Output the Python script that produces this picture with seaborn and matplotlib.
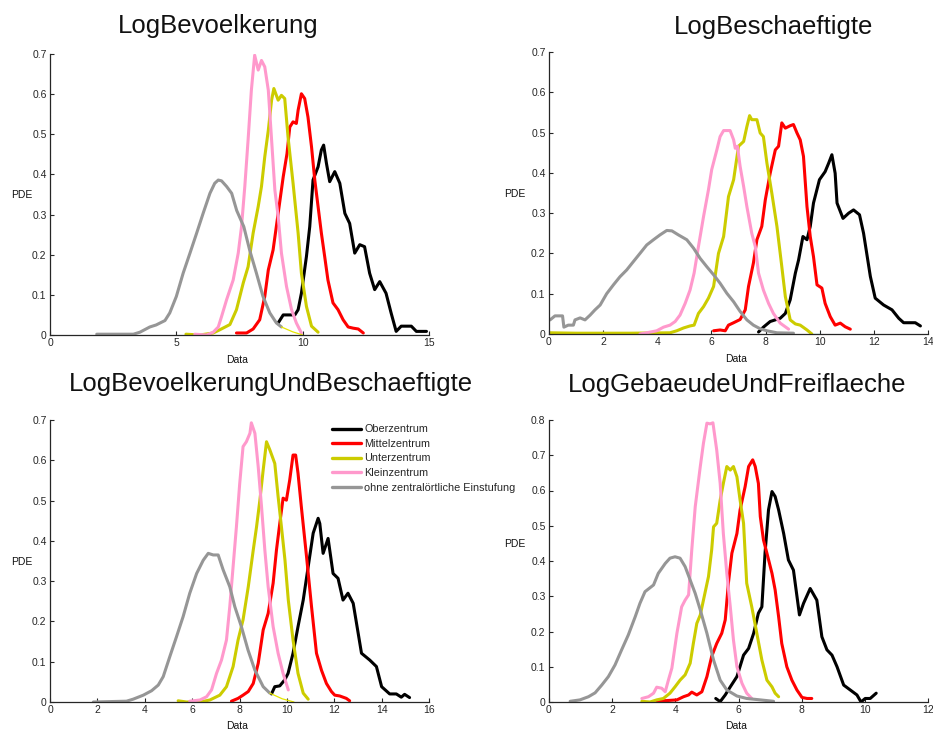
import numpy as np
import pandas as pd
import matplotlib
matplotlib.use("Agg")
import matplotlib.pyplot as plt
import seaborn as sns
from matplotlib.ticker import FormatStrFormatter, FuncFormatter

sns.set_theme(style="white")
plt.rcParams["font.family"] = ["Liberation Sans", "DejaVu Sans"]

categories = ["Oberzentrum", "Mittelzentrum", "Unterzentrum", "Kleinzentrum",
              "ohne zentralörtliche Einstufung"]
colors = ["#000000", "#ff0000", "#cccc00", "#ff99cc", "#969696"]
titles = ["LogBevoelkerung", "LogBeschaeftigte",
          "LogBevoelkerungUndBeschaeftigte", "LogGebaeudeUndFreiflaeche"]

# ---------------- Panel 1: LogBevoelkerung ----------------
p1_ober_x = [9.03, 9.23, 9.49, 9.69, 9.82, 9.95, 10.15, 10.28, 10.41, 10.61, 10.74, 10.83, 10.94, 11.07, 11.27, 11.47, 11.67, 11.86, 12.06, 12.26, 12.45, 12.65, 12.85, 13.05, 13.3, 13.5, 13.7, 13.9, 14.3, 14.5, 14.9]
p1_ober_y = [0.03, 0.05, 0.05, 0.05, 0.063, 0.104, 0.196, 0.27, 0.386, 0.419, 0.461, 0.473, 0.428, 0.382, 0.407, 0.378, 0.303, 0.278, 0.204, 0.225, 0.22, 0.154, 0.113, 0.133, 0.104, 0.055, 0.009, 0.022, 0.022, 0.009, 0.009]
p1_mittel_x = [7.38, 7.78, 8.04, 8.3, 8.5, 8.64, 8.83, 9.03, 9.23, 9.38, 9.49, 9.62, 9.75, 9.82, 9.95, 10.08, 10.21, 10.35, 10.48, 10.61, 10.74, 10.87, 11.0, 11.2, 11.4, 11.6, 11.8, 12.0, 12.2, 12.4]
p1_mittel_y = [0.005, 0.005, 0.015, 0.038, 0.096, 0.162, 0.212, 0.303, 0.394, 0.452, 0.518, 0.531, 0.527, 0.56, 0.601, 0.589, 0.543, 0.469, 0.386, 0.32, 0.254, 0.196, 0.137, 0.08, 0.063, 0.038, 0.02, 0.017, 0.015, 0.005]
p1_unter_x = [5.38, 5.93, 6.46, 6.72, 7.12, 7.38, 7.65, 7.84, 8.04, 8.24, 8.37, 8.5, 8.64, 8.77, 8.86, 9.03, 9.16, 9.29, 9.42, 9.62, 9.82, 9.95, 10.15, 10.35, 10.61]
p1_unter_y = [0.002, 0.0, 0.005, 0.013, 0.026, 0.063, 0.13, 0.17, 0.254, 0.32, 0.37, 0.444, 0.51, 0.585, 0.614, 0.585, 0.597, 0.589, 0.494, 0.378, 0.254, 0.154, 0.071, 0.022, 0.007]
p1_klein_x = [5.73, 6.2, 6.46, 6.66, 6.79, 6.99, 7.25, 7.45, 7.58, 7.71, 7.84, 7.97, 8.1, 8.24, 8.37, 8.5, 8.64, 8.77, 8.9, 9.03, 9.16, 9.36, 9.56, 9.75, 9.95]
p1_klein_y = [0.002, 0.0, 0.007, 0.02, 0.046, 0.088, 0.137, 0.204, 0.27, 0.37, 0.486, 0.61, 0.697, 0.66, 0.684, 0.668, 0.61, 0.486, 0.361, 0.295, 0.204, 0.121, 0.063, 0.03, 0.005]
p1_ohne_x = [1.85, 3.3, 3.56, 3.95, 4.2, 4.55, 4.74, 5.0, 5.27, 5.54, 5.8, 6.06, 6.33, 6.52, 6.66, 6.79, 6.99, 7.19, 7.39, 7.67, 7.9, 8.17, 8.43, 8.7, 8.96, 9.16]
p1_ohne_y = [0.002, 0.002, 0.007, 0.02, 0.025, 0.036, 0.055, 0.096, 0.154, 0.204, 0.253, 0.303, 0.353, 0.378, 0.386, 0.384, 0.37, 0.353, 0.31, 0.27, 0.212, 0.154, 0.096, 0.055, 0.03, 0.02]
p1_tail_x = [9.16, 9.6, 10.0]
p1_tail_y = [0.02, 0.008, 0.0]

# ---------------- Panel 2: LogBeschaeftigte ----------------
p2_ober_x = [7.74, 7.92, 8.17, 8.54, 8.73, 8.91, 9.1, 9.22, 9.38, 9.53, 9.65, 9.77, 9.99, 10.2, 10.33, 10.45, 10.57, 10.64, 10.86, 11.07, 11.25, 11.47, 11.62, 11.87, 12.05, 12.36, 12.67, 12.92, 13.1, 13.53, 13.72]
p2_ober_y = [0.005, 0.017, 0.031, 0.039, 0.051, 0.085, 0.151, 0.184, 0.242, 0.234, 0.267, 0.325, 0.383, 0.403, 0.424, 0.445, 0.399, 0.325, 0.287, 0.3, 0.308, 0.296, 0.25, 0.143, 0.089, 0.072, 0.06, 0.039, 0.028, 0.028, 0.02]
p2_mittel_x = [6.08, 6.32, 6.51, 6.63, 6.82, 7.06, 7.25, 7.37, 7.55, 7.68, 7.86, 7.99, 8.17, 8.36, 8.48, 8.6, 8.73, 8.91, 9.03, 9.16, 9.28, 9.4, 9.53, 9.65, 9.77, 9.9, 10.08, 10.2, 10.39, 10.57, 10.76, 10.94, 11.13]
p2_mittel_y = [0.008, 0.01, 0.008, 0.022, 0.028, 0.036, 0.06, 0.118, 0.176, 0.234, 0.267, 0.333, 0.399, 0.457, 0.466, 0.524, 0.511, 0.517, 0.52, 0.499, 0.482, 0.441, 0.316, 0.242, 0.192, 0.122, 0.114, 0.076, 0.043, 0.022, 0.027, 0.018, 0.012]
p2_unter_x = [0.04, 1.0, 2.0, 3.0, 4.47, 4.72, 4.97, 5.21, 5.36, 5.52, 5.71, 5.89, 6.08, 6.26, 6.45, 6.63, 6.82, 7.0, 7.19, 7.31, 7.41, 7.49, 7.68, 7.8, 7.92, 8.05, 8.23, 8.42, 8.6, 8.73, 8.91, 9.1, 9.28, 9.53, 9.71]
p2_unter_y = [0.003, 0.002, 0.002, 0.002, 0.003, 0.008, 0.015, 0.02, 0.022, 0.051, 0.068, 0.089, 0.118, 0.2, 0.242, 0.341, 0.383, 0.466, 0.478, 0.515, 0.542, 0.532, 0.532, 0.499, 0.49, 0.424, 0.35, 0.267, 0.167, 0.093, 0.035, 0.025, 0.022, 0.01, 0.0]
p2_klein_x = [3.36, 3.61, 3.98, 4.23, 4.47, 4.66, 4.84, 5.03, 5.21, 5.36, 5.52, 5.71, 5.89, 6.01, 6.2, 6.32, 6.45, 6.69, 6.82, 6.88, 6.96, 7.06, 7.19, 7.31, 7.49, 7.62, 7.74, 7.92, 8.11, 8.29, 8.54, 8.85]
p2_klein_y = [0.0, 0.003, 0.008, 0.017, 0.022, 0.031, 0.047, 0.076, 0.109, 0.151, 0.217, 0.292, 0.358, 0.408, 0.457, 0.49, 0.505, 0.505, 0.482, 0.461, 0.466, 0.416, 0.366, 0.316, 0.25, 0.217, 0.151, 0.109, 0.076, 0.051, 0.027, 0.012]
p2_ohne_x = [0.04, 0.22, 0.5, 0.55, 0.71, 0.9, 0.96, 1.15, 1.33, 1.52, 1.7, 1.89, 2.13, 2.38, 2.62, 2.87, 3.12, 3.36, 3.61, 3.86, 4.1, 4.35, 4.54, 4.78, 5.09, 5.34, 5.58, 5.83, 6.08, 6.32, 6.57, 6.82, 7.06, 7.31, 7.55, 7.8, 8.05, 8.42, 9.03]
p2_ohne_y = [0.035, 0.045, 0.045, 0.017, 0.022, 0.022, 0.035, 0.04, 0.035, 0.047, 0.06, 0.072, 0.1, 0.122, 0.142, 0.159, 0.18, 0.2, 0.221, 0.234, 0.246, 0.257, 0.256, 0.246, 0.234, 0.213, 0.188, 0.167, 0.147, 0.126, 0.101, 0.08, 0.056, 0.035, 0.022, 0.013, 0.008, 0.003, 0.002]
p2_tail_x = [9.75, 10.0]
p2_tail_y = [0.0, 0.0]

# ---------------- Panel 3: LogBevoelkerungUndBeschaeftigte ----------------
p3_ober_x = [9.35, 9.49, 9.7, 9.91, 10.05, 10.26, 10.47, 10.69, 10.9, 11.11, 11.32, 11.39, 11.53, 11.74, 11.95, 12.16, 12.37, 12.58, 12.8, 13.15, 13.5, 13.78, 14.0, 14.34, 14.62, 14.83, 14.97, 15.18]
p3_ober_y = [0.02, 0.038, 0.04, 0.055, 0.071, 0.121, 0.187, 0.253, 0.336, 0.419, 0.456, 0.443, 0.369, 0.406, 0.319, 0.307, 0.253, 0.27, 0.245, 0.121, 0.104, 0.088, 0.038, 0.02, 0.02, 0.012, 0.019, 0.011]
p3_mittel_x = [7.66, 7.94, 8.15, 8.37, 8.58, 8.79, 9.0, 9.21, 9.42, 9.56, 9.7, 9.84, 9.98, 10.12, 10.26, 10.37, 10.47, 10.61, 10.83, 11.04, 11.25, 11.46, 11.67, 11.88, 12.02, 12.23, 12.51, 12.65]
p3_mittel_y = [0.002, 0.009, 0.017, 0.026, 0.046, 0.096, 0.179, 0.22, 0.295, 0.377, 0.443, 0.506, 0.501, 0.551, 0.613, 0.613, 0.568, 0.485, 0.361, 0.237, 0.121, 0.079, 0.046, 0.026, 0.017, 0.015, 0.009, 0.003]
p3_unter_x = [5.41, 5.76, 6.33, 6.75, 7.17, 7.45, 7.73, 7.94, 8.15, 8.37, 8.58, 8.72, 8.86, 9.0, 9.14, 9.28, 9.49, 9.63, 9.77, 9.92, 10.06, 10.26, 10.47, 10.69, 10.9]
p3_unter_y = [0.003, 0.0, 0.0, 0.005, 0.017, 0.038, 0.088, 0.154, 0.204, 0.286, 0.377, 0.435, 0.501, 0.576, 0.646, 0.626, 0.592, 0.51, 0.435, 0.352, 0.253, 0.154, 0.071, 0.022, 0.007]
p3_klein_x = [5.9, 6.33, 6.61, 6.82, 7.03, 7.24, 7.45, 7.59, 7.73, 7.87, 8.01, 8.15, 8.29, 8.44, 8.5, 8.65, 8.79, 8.93, 9.07, 9.21, 9.42, 9.63, 9.84, 10.06]
p3_klein_y = [0.002, 0.005, 0.013, 0.03, 0.071, 0.104, 0.154, 0.237, 0.336, 0.435, 0.543, 0.634, 0.646, 0.667, 0.693, 0.667, 0.584, 0.485, 0.377, 0.286, 0.187, 0.121, 0.071, 0.03]
p3_ohne_x = [1.83, 3.23, 3.51, 3.94, 4.29, 4.57, 4.78, 5.06, 5.34, 5.62, 5.9, 6.19, 6.47, 6.68, 6.89, 7.1, 7.31, 7.59, 7.8, 8.08, 8.36, 8.65, 9.0, 9.28]
p3_ohne_y = [0.0, 0.002, 0.007, 0.017, 0.028, 0.042, 0.063, 0.113, 0.162, 0.212, 0.27, 0.319, 0.352, 0.369, 0.365, 0.365, 0.328, 0.286, 0.237, 0.187, 0.129, 0.079, 0.038, 0.022]
p3_tail_x = [9.28, 9.8, 10.3]
p3_tail_y = [0.022, 0.008, 0.0]

# ---------------- Panel 4: LogGebaeudeUndFreiflaeche ----------------
p4_ober_x = [5.28, 5.42, 5.58, 5.74, 5.95, 6.16, 6.32, 6.48, 6.63, 6.74, 6.84, 6.95, 7.06, 7.16, 7.27, 7.43, 7.58, 7.74, 7.93, 8.06, 8.27, 8.48, 8.64, 8.8, 8.96, 9.12, 9.33, 9.54, 9.75, 9.88, 10.01, 10.17, 10.36]
p4_ober_y = [0.01, 0.001, 0.02, 0.043, 0.072, 0.133, 0.152, 0.195, 0.252, 0.27, 0.422, 0.545, 0.597, 0.583, 0.545, 0.478, 0.403, 0.374, 0.247, 0.28, 0.322, 0.289, 0.185, 0.148, 0.133, 0.1, 0.048, 0.034, 0.02, 0.0, 0.01, 0.01, 0.025]
p4_mittel_x = [3.41, 3.73, 4.05, 4.26, 4.42, 4.52, 4.68, 4.84, 5.0, 5.15, 5.31, 5.47, 5.58, 5.68, 5.79, 5.95, 6.05, 6.21, 6.32, 6.45, 6.53, 6.63, 6.69, 6.79, 6.9, 7.06, 7.16, 7.27, 7.37, 7.53, 7.69, 7.85, 8.01, 8.17, 8.32]
p4_mittel_y = [0.003, 0.004, 0.006, 0.015, 0.02, 0.028, 0.02, 0.029, 0.072, 0.129, 0.166, 0.195, 0.233, 0.337, 0.422, 0.478, 0.545, 0.611, 0.668, 0.687, 0.668, 0.62, 0.526, 0.46, 0.422, 0.365, 0.318, 0.242, 0.166, 0.1, 0.062, 0.034, 0.013, 0.01, 0.01]
p4_unter_x = [2.94, 3.2, 3.41, 3.62, 3.83, 3.99, 4.15, 4.31, 4.47, 4.57, 4.68, 4.79, 4.89, 5.05, 5.15, 5.21, 5.31, 5.42, 5.52, 5.63, 5.74, 5.84, 5.95, 6.05, 6.16, 6.26, 6.42, 6.58, 6.74, 6.9, 7.06, 7.16, 7.27]
p4_unter_y = [0.002, 0.0, 0.006, 0.01, 0.025, 0.043, 0.062, 0.077, 0.11, 0.166, 0.223, 0.247, 0.289, 0.356, 0.431, 0.497, 0.507, 0.573, 0.62, 0.668, 0.658, 0.668, 0.639, 0.573, 0.507, 0.337, 0.27, 0.195, 0.119, 0.062, 0.043, 0.025, 0.015]
p4_klein_x = [2.94, 3.15, 3.31, 3.41, 3.57, 3.68, 3.78, 3.89, 4.05, 4.2, 4.31, 4.42, 4.52, 4.63, 4.79, 4.89, 5.0, 5.1, 5.19, 5.31, 5.42, 5.52, 5.63, 5.74, 5.84, 5.95, 6.11, 6.26, 6.42]
p4_klein_y = [0.01, 0.015, 0.025, 0.042, 0.039, 0.029, 0.062, 0.096, 0.195, 0.27, 0.289, 0.304, 0.431, 0.554, 0.668, 0.734, 0.791, 0.789, 0.792, 0.715, 0.62, 0.478, 0.365, 0.27, 0.176, 0.1, 0.053, 0.025, 0.01]
p4_ohne_x = [0.67, 0.98, 1.25, 1.46, 1.67, 1.88, 2.09, 2.3, 2.51, 2.73, 2.88, 3.04, 3.31, 3.46, 3.68, 3.83, 3.99, 4.15, 4.31, 4.47, 4.63, 4.79, 5.0, 5.21, 5.42, 5.63, 5.95, 6.26, 6.69, 7.11]
p4_ohne_y = [0.002, 0.006, 0.015, 0.026, 0.048, 0.072, 0.105, 0.148, 0.19, 0.242, 0.28, 0.313, 0.332, 0.365, 0.393, 0.408, 0.412, 0.408, 0.384, 0.346, 0.308, 0.261, 0.195, 0.119, 0.062, 0.034, 0.017, 0.01, 0.006, 0.002]

panels = [
    [(p1_ober_x, p1_ober_y), (p1_mittel_x, p1_mittel_y), (p1_unter_x, p1_unter_y),
     (p1_klein_x, p1_klein_y), (p1_ohne_x, p1_ohne_y)],
    [(p2_ober_x, p2_ober_y), (p2_mittel_x, p2_mittel_y), (p2_unter_x, p2_unter_y),
     (p2_klein_x, p2_klein_y), (p2_ohne_x, p2_ohne_y)],
    [(p3_ober_x, p3_ober_y), (p3_mittel_x, p3_mittel_y), (p3_unter_x, p3_unter_y),
     (p3_klein_x, p3_klein_y), (p3_ohne_x, p3_ohne_y)],
    [(p4_ober_x, p4_ober_y), (p4_mittel_x, p4_mittel_y), (p4_unter_x, p4_unter_y),
     (p4_klein_x, p4_klein_y), (p4_ohne_x, p4_ohne_y)],
]
tails = [(p1_tail_x, p1_tail_y, "#e6e600"), (p2_tail_x, p2_tail_y, "#33cccc"),
         (p3_tail_x, p3_tail_y, "#e6e600"), None]

xlims = [(0, 15), (0, 14), (0, 16), (0, 12)]
xticks = [[0, 5, 10, 15], list(range(0, 15, 2)), list(range(0, 17, 2)), list(range(0, 13, 2))]
ylims = [(0, 0.7), (0, 0.7), (0, 0.7), (0, 0.8)]

W, H = 933, 731
fig = plt.figure(figsize=(W / 100, H / 100), dpi=100)

# axes rectangles in pixels: left, top, right, bottom
rects = [(50, 54, 429, 335), (549, 52, 928, 334), (50, 420, 429, 702), (549, 420, 928, 702)]
title_pos = [(218, 33), (774, 34), (271, 391), (737, 392)]
pde_pos = [(22, 195), (515, 194), (22, 562), (515, 544)]
data_pos = [(237, 360), (736, 359), (237, 726), (736, 726)]

palette = dict(zip(categories, colors))

for i in range(4):
    l, t, r, b = rects[i]
    ax = fig.add_axes([l / W, 1 - b / H, (r - l) / W, (b - t) / H])
    frames = []
    for cat, (xs, ys) in zip(categories, panels[i]):
        frames.append(pd.DataFrame({"x": xs, "y": ys, "cat": cat}))
    df = pd.concat(frames, ignore_index=True)
    sns.lineplot(data=df, x="x", y="y", hue="cat", hue_order=categories,
                 palette=palette, sort=False, estimator=None, linewidth=2.2,
                 ax=ax, legend=(i == 2))
    if tails[i] is not None:
        tx, ty, tc = tails[i]
        sns.lineplot(x=tx, y=ty, color=tc, linewidth=0.9, sort=False,
                     estimator=None, ax=ax)
    ax.set_xlim(*xlims[i])
    ax.set_ylim(*ylims[i])
    ax.set_xticks(xticks[i])
    ax.set_yticks(np.round(np.arange(0, ylims[i][1] + 0.001, 0.1), 1))
    ax.yaxis.set_major_formatter(FuncFormatter(lambda v, p: f"{v:g}"))
    ax.xaxis.set_major_formatter(FuncFormatter(lambda v, p: f"{v:g}"))
    ax.set_xlabel("")
    ax.set_ylabel("")
    for s in ["top", "right"]:
        ax.spines[s].set_visible(False)
    for s in ["left", "bottom"]:
        ax.spines[s].set_color("#262626")
        ax.spines[s].set_linewidth(0.9)
    ax.tick_params(direction="in", length=3, width=0.8, labelsize=7.5,
                   colors="#262626", pad=2.5, left=True, bottom=True)
    ax.patch.set_alpha(0)

    fig.text(title_pos[i][0] / W, 1 - title_pos[i][1] / H, titles[i],
             fontsize=18.5, ha="center", va="baseline", color="#111111")
    fig.text(pde_pos[i][0] / W, 1 - pde_pos[i][1] / H, "PDE",
             fontsize=7.5, ha="center", va="center", color="#111111")
    fig.text(data_pos[i][0] / W, 1 - data_pos[i][1] / H, "Data",
             fontsize=7.5, ha="center", va="center", color="#111111")

    if i == 2:
        leg = ax.legend(loc="upper left", bbox_to_anchor=(328 / W, 1 - 420 / H),
                        bbox_transform=fig.transFigure, frameon=False,
                        fontsize=7.8, handlelength=2.6, handletextpad=0.35,
                        labelspacing=0.42, borderaxespad=0)
        for ln in leg.get_lines():
            ln.set_linewidth(2.4)

fig.savefig("out.png", dpi=100)
